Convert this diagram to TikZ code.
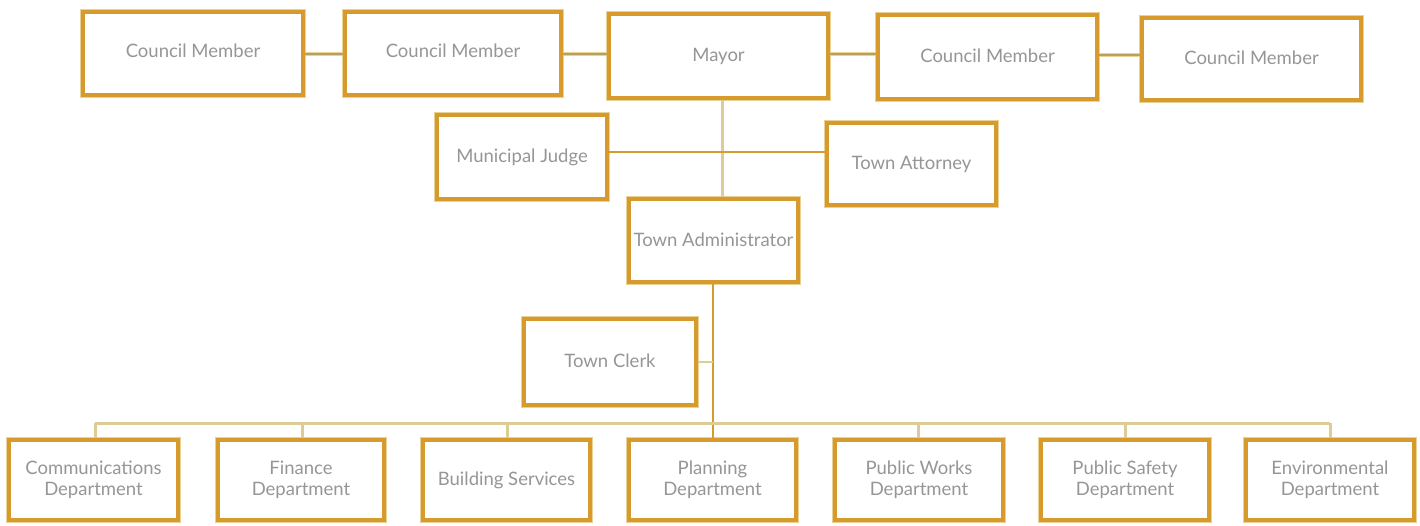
\documentclass[tikz,border=0pt]{standalone}
\usepackage{fontspec}
\setmainfont{Lato}
\definecolor{gold}{RGB}{214,154,45}
\definecolor{halo}{RGB}{232,210,150}
\definecolor{olive}{RGB}{184,160,96}
\definecolor{paleline}{RGB}{222,204,150}
\definecolor{txt}{RGB}{150,150,150}
\tikzset{
  box/.style={draw=gold, line width=3.5pt, fill=white, text=txt, align=center,
    font=\fontsize{18.5}{21}\selectfont, inner sep=0pt,
    preaction={draw=halo, line width=5.5pt}},
  topline/.style={draw=olive, line width=2.2pt, preaction={draw=halo, line width=4pt}},
  orangeline/.style={draw=gold, line width=2.8pt},
  paleln/.style={draw=paleline, line width=2.4pt},
  busline/.style={draw=paleline, line width=3pt},
}
\begin{document}
\begin{tikzpicture}[x=1pt,y=-1pt]
\useasboundingbox (0,0) rectangle (1420,525);
\fill[white] (0,0) rectangle (1420,525);
\coordinate (busL) at (95,423);
\coordinate (busR) at (1330,423);
% top row
\node[box, minimum width=220pt, minimum height=83pt] (cm1) at (193,53.5) {\raisebox{6pt}{Council Member}};
\node[box, minimum width=216pt, minimum height=83pt] (cm2) at (453,53.5) {\raisebox{6pt}{Council Member}};
\node[box, minimum width=219pt, minimum height=84pt] (mayor) at (718.5,56) {\raisebox{2pt}{Mayor}};
\node[box, minimum width=219pt, minimum height=84pt] (cm3) at (987.5,57) {\raisebox{2pt}{Council Member}};
\node[box, minimum width=219pt, minimum height=82pt] (cm4) at (1251.5,59) {\raisebox{2pt}{Council Member}};
% middle
\node[box, minimum width=170pt, minimum height=84pt] (judge) at (522,157) {\raisebox{3pt}{Municipal Judge}};
\node[box, minimum width=169pt, minimum height=82pt] (attorney) at (911.5,164) {\raisebox{2pt}{Town Attorney}};
\node[box, minimum width=169pt, minimum height=83pt] (admin) at (713.5,240.5) {\raisebox{2pt}{Town Administrator}};
\node[box, minimum width=172pt, minimum height=86pt] (clerk) at (610,362) {\raisebox{2pt}{Town Clerk}};
% bottom row
\node[box, minimum width=169pt, minimum height=80pt] (comm) at (93.5,480) {Communications\\Department};
\node[box, minimum width=166pt, minimum height=80pt] (fin) at (301,480) {Finance\\Department};
\node[box, minimum width=167pt, minimum height=80pt] (bld) at (506.5,480) {Building Services};
\node[box, minimum width=167pt, minimum height=80pt] (plan) at (712.5,480) {Planning\\Department};
\node[box, minimum width=168pt, minimum height=80pt] (pw) at (919,480) {Public Works\\Department};
\node[box, minimum width=168pt, minimum height=80pt] (ps) at (1125,480) {Public Safety\\Department};
\node[box, minimum width=168pt, minimum height=80pt] (env) at (1330,480) {Environmental\\Department};
% connectors
\draw[topline] (cm1.east |- 0,54) -- (cm2.west |- 0,54);
\draw[topline] (cm2.east |- 0,54) -- (mayor.west |- 0,54);
\draw[topline] (mayor.east |- 0,54) -- (cm3.west |- 0,54);
\draw[topline] (cm3.east |- 0,55) -- (cm4.west |- 0,55);
\draw[paleln] ([xshift=4pt]mayor.south) -- ([xshift=4pt]mayor.south |- admin.north);
\draw[orangeline] ([yshift=5pt]judge.east) -- (attorney.west |- 0,152);
\draw[orangeline] (admin.south -| 713,0) -- (713,423) -- (plan.north -| 713,0);
\draw[paleln] (clerk.east) -- (713,362);
\draw[busline] (busL) -- (busR);
\foreach \n/\x in {comm/95,fin/302,bld/507,pw/918,ps/1125,env/1330}
  \draw[busline] (\x,423) -- (\n.north -| \x,0);
\end{tikzpicture}
\end{document}
